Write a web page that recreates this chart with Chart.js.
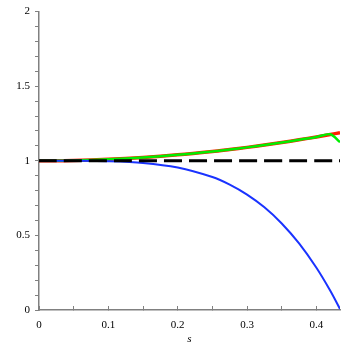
<!DOCTYPE html>
<html>
<head>
<meta charset="utf-8">
<script src="https://cdn.jsdelivr.net/npm/chart.js@4"></script>
<style>
  body { margin: 0; background: #fff; }
  #wrap { width: 347px; height: 347px; }
</style>
</head>
<body>
<div id="wrap"><canvas id="plot"></canvas></div>
<script>
// values
const sValues = [0, 0.05, 0.1, 0.15, 0.2, 0.25, 0.275, 0.3, 0.325, 0.35, 0.375, 0.4, 0.42, 0.434];
const blueValues = [1, 0.9998, 0.997, 0.986, 0.955, 0.891, 0.84, 0.773, 0.688, 0.58, 0.446, 0.283, 0.129, 0.007];
const redValues = [1, 1.0025, 1.01, 1.0225, 1.04, 1.0625, 1.076, 1.09, 1.106, 1.1225, 1.141, 1.16, 1.176, 1.188];
const greenValues = [1, 1.0025, 1.01, 1.0225, 1.04, 1.0625, 1.076, 1.09, 1.106, 1.1225, 1.141, 1.16, 1.178, 1.125];
const refS = [0, 0.434];
const refValues = [1, 1];
const xTickLabels = ['0', '0.1', '0.2', '0.3', '0.4'];
const yTickLabels = ['0', '0.5', '1', '1.5', '2'];

const pts = (xs, ys) => xs.map((x, i) => ({ x: x, y: ys[i] }));

const serif = '"Liberation Serif", "DejaVu Serif", serif';
const axisGray = '#808080';

const isMultiple = (v, step) => Math.abs(v / step - Math.round(v / step)) < 1e-6;

new Chart(document.getElementById('plot'), {
  type: 'scatter',
  data: {
    datasets: [
      { label: 'ref', data: pts(refS, refValues), borderColor: '#000000', borderWidth: 3, borderDash: [18, 7] },
      { label: 'blue', data: pts(sValues, blueValues), borderColor: '#1a33ff', borderWidth: 2 },
      { label: 'green', data: pts(sValues, greenValues), borderColor: '#00ee00', borderWidth: 2.5 },
      { label: 'red', data: pts(sValues, redValues), borderColor: '#ff2000', borderWidth: 3.5 }
    ]
  },
  options: {
    responsive: true,
    maintainAspectRatio: false,
    animation: false,
    showLine: true,
    elements: { point: { radius: 0, hoverRadius: 0 }, line: { tension: 0.3, fill: false } },
    layout: { padding: { top: 11, right: 7, left: 0, bottom: 0 } },
    plugins: { legend: { display: false }, tooltip: { enabled: false } },
    scales: {
      x: {
        type: 'linear',
        min: 0,
        max: 0.434,
        afterFit: (scale) => { scale.height = 37; },
        afterBuildTicks: (scale) => {
          // minor ticks every 0.05, the max itself gets no tick
          const ticks = [];
          for (let i = 0; i * 0.05 <= scale.max + 1e-9; i++) ticks.push({ value: i * 0.05 });
          scale.ticks = ticks;
        },
        border: { display: true, color: axisGray, width: 1.5 },
        grid: { drawOnChartArea: false, drawTicks: true, tickLength: -4, color: axisGray, tickColor: axisGray },
        ticks: {
          autoSkip: false,
          maxRotation: 0,
          padding: 13,
          color: '#000',
          font: { family: serif, size: 11 },
          callback: (v) => isMultiple(v, 0.1) ? xTickLabels[Math.round(v / 0.1)] : ''
        },
        title: { display: true, text: 's', color: '#000', font: { family: serif, size: 11, style: 'italic' }, padding: { top: 0, bottom: 1 } }
      },
      y: {
        type: 'linear',
        min: 0,
        max: 2,
        afterFit: (scale) => { scale.width = 39; },
        border: { display: true, color: axisGray, width: 1.5 },
        grid: { drawOnChartArea: false, drawTicks: true, tickLength: 4, color: axisGray, tickColor: axisGray },
        ticks: {
          stepSize: 0.1,
          autoSkip: false,
          padding: 5,
          color: '#000',
          font: { family: serif, size: 11 },
          callback: (v) => isMultiple(v, 0.5) ? yTickLabels[Math.round(v / 0.5)] : ''
        }
      }
    }
  }
});
</script>
</body>
</html>
